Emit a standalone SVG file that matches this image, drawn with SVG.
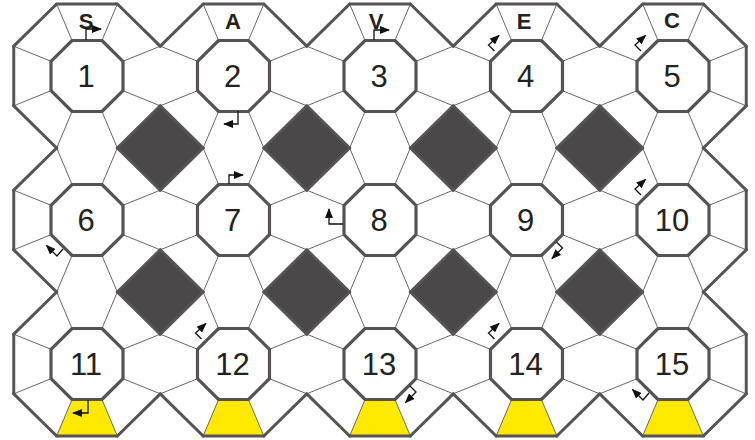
<svg xmlns="http://www.w3.org/2000/svg" xmlns:xlink="http://www.w3.org/1999/xlink" width="755" height="440" viewBox="0 0 755 440">
<style>
.thick{fill:none;stroke:#575355;stroke-width:3;stroke-linejoin:round;stroke-linecap:round}
.thin{fill:none;stroke:#6a6668;stroke-width:1}
.inner{fill:none;stroke:#575355;stroke-width:3.2;stroke-linejoin:round}
.dia{fill:#4a4849;stroke:#4a4849;stroke-width:1}
.yel{fill:#ffe900;stroke:none}
.arr{fill:none;stroke:#111;stroke-width:1.3;marker-end:url(#ah)}
.num{font-family:"Liberation Sans",Arial,sans-serif;font-size:31px;fill:#222;text-anchor:middle}
.lab{font-family:"Liberation Sans",Arial,sans-serif;font-size:22px;font-weight:bold;fill:#222;text-anchor:middle}
</style>
<defs>
<marker id="ah" markerUnits="userSpaceOnUse" markerWidth="10" markerHeight="8" refX="9" refY="4" orient="auto">
<path d="M0,0 L10,4 L0,8 z" fill="#111"/>
</marker>
<g id="cell">
<path class="thin" d="M-14.91-35.5L-30.34-72M14.91-35.5L30.34-72M36-14.7L73.25-29.82M36 14.7L73.25 29.82M14.91 35.5L30.34 72M-14.91 35.5L-30.34 72M-36 14.7L-73.25 29.82M-36-14.7L-73.25-29.82"/>
<path class="thick" d="M30.34-72L73.25-29.82M73.25 29.82L30.34 72M-30.34 72L-73.25 29.82M-73.25-29.82L-30.34-72"/>
<polygon class="inner" points="-14.91,-35.5 14.91,-35.5 36,-14.7 36,14.7 14.91,35.5 -14.91,35.5 -36,14.7 -36,-14.7"/>
</g>
<polygon id="yt" class="yel" points="-14.91,35.5 14.91,35.5 30.34,72 -30.34,72"/>
<polygon id="dm" class="dia" points="0,-42.18 42.91,0 0,42.18 -42.91,0"/>
</defs>
<rect width="755" height="440" fill="#fff"/>
<g id="squares">
<use xlink:href="#dm" x="160.25" y="148"/>
<use xlink:href="#dm" x="306.75" y="148"/>
<use xlink:href="#dm" x="453.25" y="148"/>
<use xlink:href="#dm" x="599.75" y="148"/>
<use xlink:href="#dm" x="160.25" y="292"/>
<use xlink:href="#dm" x="306.75" y="292"/>
<use xlink:href="#dm" x="453.25" y="292"/>
<use xlink:href="#dm" x="599.75" y="292"/>
</g>
<g id="yellow">
<use xlink:href="#yt" x="87" y="364"/>
<use xlink:href="#yt" x="233.5" y="364"/>
<use xlink:href="#yt" x="380" y="364"/>
<use xlink:href="#yt" x="526.5" y="364"/>
<use xlink:href="#yt" x="673" y="364"/>
</g>
<g id="n1"><use xlink:href="#cell" x="87" y="76"/><text class="num" x="86" y="87">1</text></g>
<g id="n2"><use xlink:href="#cell" x="233.5" y="76"/><text class="num" x="232.5" y="87">2</text></g>
<g id="n3"><use xlink:href="#cell" x="380" y="76"/><text class="num" x="379" y="87">3</text></g>
<g id="n4"><use xlink:href="#cell" x="526.5" y="76"/><text class="num" x="525.5" y="87">4</text></g>
<g id="n5"><use xlink:href="#cell" x="673" y="76"/><text class="num" x="672" y="87">5</text></g>
<g id="n6"><use xlink:href="#cell" x="87" y="220"/><text class="num" x="86" y="231">6</text></g>
<g id="n7"><use xlink:href="#cell" x="233.5" y="220"/><text class="num" x="232.5" y="231">7</text></g>
<g id="n8"><use xlink:href="#cell" x="380" y="220"/><text class="num" x="379" y="231">8</text></g>
<g id="n9"><use xlink:href="#cell" x="526.5" y="220"/><text class="num" x="525.5" y="231">9</text></g>
<g id="n10"><use xlink:href="#cell" x="673" y="220"/><text class="num" x="672" y="231">10</text></g>
<g id="n11"><use xlink:href="#cell" x="87" y="364"/><text class="num" x="86" y="375">11</text></g>
<g id="n12"><use xlink:href="#cell" x="233.5" y="364"/><text class="num" x="232.5" y="375">12</text></g>
<g id="n13"><use xlink:href="#cell" x="380" y="364"/><text class="num" x="379" y="375">13</text></g>
<g id="n14"><use xlink:href="#cell" x="526.5" y="364"/><text class="num" x="525.5" y="375">14</text></g>
<g id="n15"><use xlink:href="#cell" x="673" y="364"/><text class="num" x="672" y="375">15</text></g>
<g id="border">
<path class="thick" d="M56.66 4H117.34M203.16 4H263.84M349.66 4H410.34M496.16 4H556.84M642.66 4H703.34M56.66 436H117.34M203.16 436H263.84M349.66 436H410.34M496.16 436H556.84M642.66 436H703.34M13.75 46.18V105.82M13.75 190.18V249.82M13.75 334.18V393.82M746.25 46.18V105.82M746.25 190.18V249.82M746.25 334.18V393.82"/>
</g>
<g id="labels">
<text class="lab" x="86" y="29">S</text>
<text class="lab" x="233" y="29">A</text>
<text class="lab" x="376" y="29">V</text>
<text class="lab" x="524" y="29">E</text>
<text class="lab" x="672" y="28">C</text>
</g>
<g id="connectors">
<path class="arr" d="M86 40V29H101"/>
<path class="arr" d="M238 111V124H224"/>
<path class="arr" d="M374 40V30H389"/>
<path class="arr" d="M494.5 51L488.5 45L499 35.5"/>
<path class="arr" d="M641 51L635 45L645.5 35.5"/>
<path class="arr" d="M63 249L57 256L46.5 245.5"/>
<path class="arr" d="M229 184V175H243"/>
<path class="arr" d="M343 224H329V209"/>
<path class="arr" d="M556.5 242L562.5 248L552 258.5"/>
<path class="arr" d="M641 195L635 189L645.5 179.5"/>
<path class="arr" d="M88 400V413H73"/>
<path class="arr" d="M201.5 339L195.5 333L206 323.5"/>
<path class="arr" d="M410 386L416 392L405.5 402.5"/>
<path class="arr" d="M494.5 339L488.5 333L499 323.5"/>
<path class="arr" d="M649 393L643 400L632.5 389.5"/>
</g>
</svg>
